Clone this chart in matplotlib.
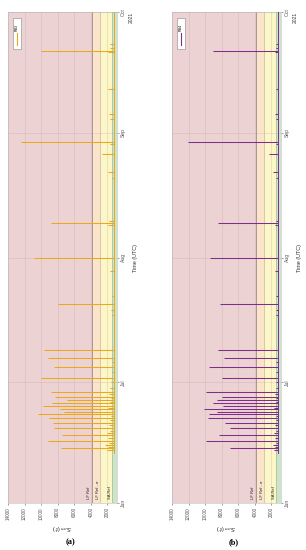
import numpy as np
import matplotlib
matplotlib.use("Agg")
import matplotlib.pyplot as plt
import matplotlib.dates as mdates
import datetime

plt.rcParams['font.family'] = ['Liberation Sans', 'DejaVu Sans']

# ---- data -------------------------------------------------------------
start = datetime.datetime(2021, 6, 1)
end = datetime.datetime(2021, 10, 1)
data_start_day = 12.5          # first sample (days after Jun 1)

lf_ref = 3900
lf_ref_sigma = 2850
sa_ref = 1400
base_level = 1250
val_min = 850
val_max = 14000

# event times in days after 2021-06-01
event_day = [13.6, 15.4, 16.9, 18.6, 20.0, 21.0, 22.1, 22.6, 23.3, 24.0,
             24.8, 25.5, 26.4, 27.5, 31.0, 33.7, 36.0, 37.9, 49.4, 61.0,
             69.5, 89.7, 112.4]
rb3_peak = [7650, 9140, 7530, 8460, 8610, 9020, 10350, 7250, 7730, 9740,
            8740, 6930, 8380, 8860, 10060, 8480, 9140, 9660, 7940, 10870,
            8860, 12400, 10060]
rb4_peak = [7000, 9920, 8380, 7000, 7600, 9640, 9500, 8600, 10160, 7820,
            9000, 8600, 8020, 9920, 8020, 9550, 7700, 8420, 8220, 9360,
            8420, 12060, 9110]

# small bumps near the baseline
small_day = [13.2, 14.0, 14.5, 15.0, 16.2, 17.5, 18.0, 19.3, 20.5, 21.5,
             23.7, 25.0, 26.0, 27.0, 28.5, 30.0, 32.5, 35.0, 46.8, 48.0,
             51.4, 57.6, 69.0, 70.0, 80.8, 82.2, 86.7, 89.2, 95.5, 96.6,
             102.8, 112.0, 113.0, 114.0]
rb3_small = [2100, 1900, 2300, 1800, 1900, 2000, 1700, 1800, 1700, 1600,
             1900, 1700, 1600, 1800, 1700, 1600, 1500, 1500, 1500, 1600,
             1400, 1700, 1900, 1800, 1400, 1950, 2700, 1700, 1700, 1800,
             1900, 1900, 1700, 1700]
rb4_small = [1700, 1600, 1800, 1500, 1600, 1700, 1500, 1600, 1500, 1500,
             1700, 1500, 1500, 1600, 1500, 1500, 1400, 1400, 1450, 1500,
             1400, 1600, 1600, 1500, 1450, 1760, 2240, 1500, 1500, 1550,
             1400, 1600, 1500, 1500]

x_ticks = [14000, 12000, 10000, 8000, 6000, 4000, 2000]

W, H = 306, 550
fig = plt.figure(figsize=(W / 100, H / 100), dpi=100)

panels = [
    (8, 'RB3', '#E9A91A', rb3_peak, rb3_small, '(a)'),
    (172, 'RB4', '#7E2F8E', rb4_peak, rb4_small, '(b)'),
]

to_date = lambda d: start + datetime.timedelta(days=d)

for left_px, name, col, peaks, smalls, tag in panels:
    ax = fig.add_axes([left_px / W, (H - 503) / H, 109 / W, 491 / H])

    # coloured bands
    ax.axvspan(val_max, lf_ref, color='#EDD2D3', lw=0, zorder=0)
    ax.axvspan(lf_ref, lf_ref_sigma, color='#FCE4CB', lw=0, zorder=0)
    ax.axvspan(lf_ref_sigma, sa_ref, color='#FDF6C6', lw=0, zorder=0)
    ax.axvspan(sa_ref, val_min, color='#CDE4C9', lw=0, zorder=0)
    for v, c in [(lf_ref, '#9A8A8A'), (lf_ref_sigma, '#C9C3A8'), (sa_ref, '#A9C3A2')]:
        ax.axvline(v, color=c, lw=0.6, zorder=1)

    # data
    ev = [to_date(d) for d in event_day]
    sm = [to_date(d) for d in small_day]
    ax.plot([base_level, base_level], [to_date(data_start_day), end], color=col, lw=0.7, zorder=3)
    ax.hlines(ev, base_level, peaks, color=col, lw=0.75, zorder=3, snap=True)
    ax.hlines(sm, base_level, smalls, color=col, lw=0.75, zorder=3, snap=True)

    ax.set_xlim(val_max, val_min)
    ax.set_ylim(start, end)
    ax.set_xticks(x_ticks)
    ax.set_xticklabels([str(t) for t in x_ticks], rotation=90, fontsize=3.3, color='#333333')
    ax.yaxis.tick_right()
    ax.yaxis.set_major_locator(mdates.MonthLocator())
    ax.yaxis.set_major_formatter(mdates.DateFormatter('%b'))
    for lab in ax.get_yticklabels():
        lab.set_rotation(90)
        lab.set_fontsize(3.6)
        lab.set_color('#333333')
        lab.set_va('center')
    ax.tick_params(length=1.5, width=0.4, pad=1.5, colors='#555555')
    ax.set_axisbelow(True)
    ax.grid(True, color='#B8A8A8', lw=0.4, alpha=0.5)
    for s in ax.spines.values():
        s.set_color('#BBBBBB')
        s.set_linewidth(0.4)

    ax.set_ylabel('Time (UTC)', rotation=90, fontsize=4, color='#333333', labelpad=5)
    ax.yaxis.set_label_position('right')
    ax.text(1.13, end, '2021', rotation=90, fontsize=3.6, color='#333333',
            transform=ax.get_yaxis_transform(), ha='center', va='top')
    ax.set_xlabel('$S_{um}(t)$', rotation=180, fontsize=4.5, color='#333333', labelpad=2)

    # band labels
    for v, lbl in [(lf_ref, 'LF Ref'), (lf_ref_sigma, 'LF Ref - σ'), (sa_ref, 'SA Ref')]:
        ax.text(v + 80, to_date(1.0), lbl, rotation=90, fontsize=3, color='#222222',
                ha='right', va='bottom', zorder=4)

    # legend (rotated by hand)
    ax.add_patch(plt.Rectangle((0.045, 0.925), 0.075, 0.063, transform=ax.transAxes,
                               facecolor='white', edgecolor='#888888', lw=0.4, zorder=5))
    ax.plot([0.083, 0.083], [0.933, 0.957], transform=ax.transAxes, color=col, lw=0.8, zorder=6)
    ax.text(0.083, 0.962, name, transform=ax.transAxes, rotation=90, fontsize=2.6,
            ha='center', va='bottom', zorder=6)

    fig.text((left_px + 62) / W, 1 - 542 / H, tag, fontsize=6, fontweight='bold',
             family='Liberation Serif', ha='center', va='center')

fig.savefig('out.png', dpi=100)
